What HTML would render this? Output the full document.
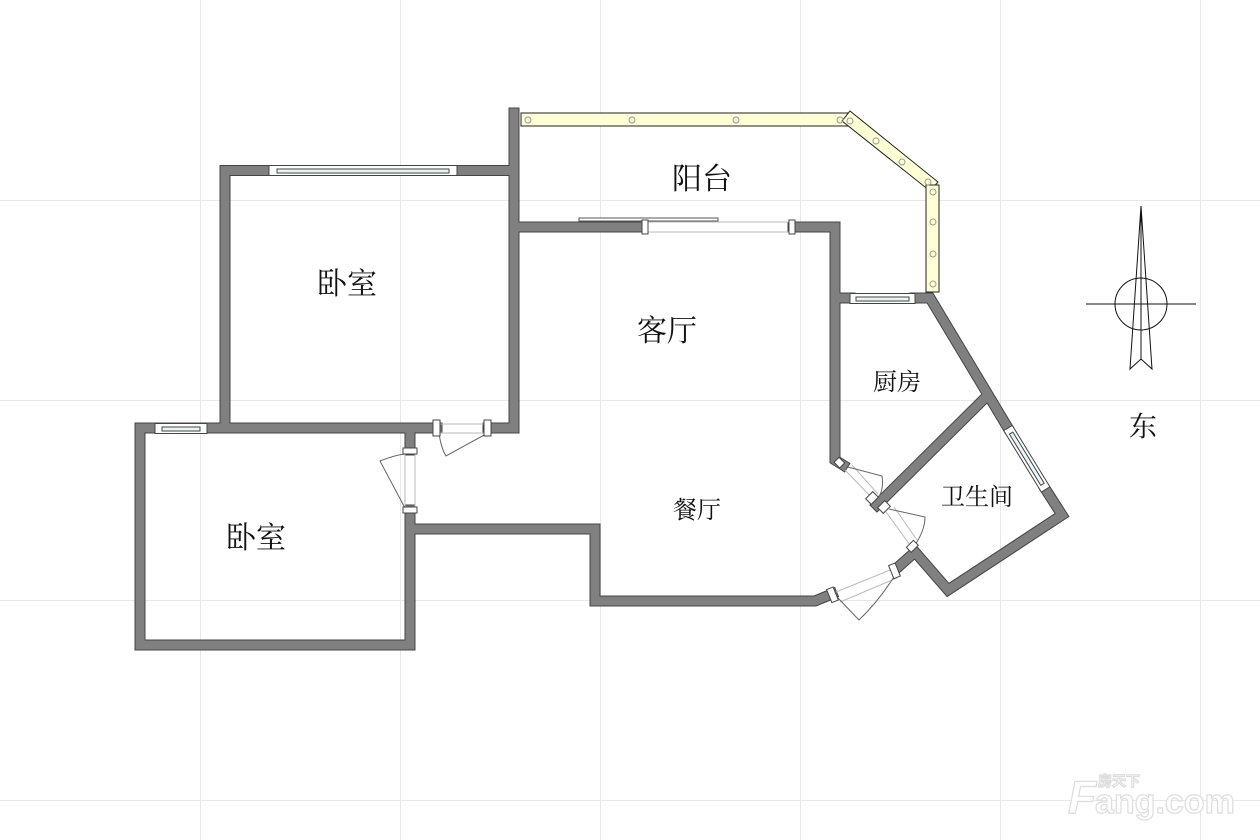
<!DOCTYPE html>
<html><head><meta charset="utf-8"><style>
html,body{margin:0;padding:0;background:#fff;width:1260px;height:840px;overflow:hidden}
svg{display:block}
text{font-family:"Liberation Serif","Noto Serif CJK SC","Noto Sans CJK SC",serif;fill:#111}
</style></head><body>
<svg width="1260" height="840" viewBox="0 0 1260 840" xmlns="http://www.w3.org/2000/svg">
<g stroke="#e8e8e8" stroke-width="1">
<line x1="200.5" y1="0" x2="200.5" y2="840"/><line x1="400.5" y1="0" x2="400.5" y2="840"/><line x1="600.5" y1="0" x2="600.5" y2="840"/><line x1="800.5" y1="0" x2="800.5" y2="840"/><line x1="1000.5" y1="0" x2="1000.5" y2="840"/><line x1="1200.5" y1="0" x2="1200.5" y2="840"/>
<line x1="0" y1="200.5" x2="1260" y2="200.5"/><line x1="0" y1="400.5" x2="1260" y2="400.5"/><line x1="0" y1="600.5" x2="1260" y2="600.5"/><line x1="0" y1="800.5" x2="1260" y2="800.5"/>
</g>
<!-- walls: outline then fill -->
<g fill="none" stroke-linejoin="miter" stroke-linecap="square">
<g stroke="#444" stroke-width="11">
<path id="w" d="M225 428 V170.5 H269 M457 170.5 H514 V113 M514 170 V428 H488 M437 428 H140 V645 H410 V510 M410 450 V428
M410 529 H595 V601 H815 L832 594
M514 227 H642 M793 227 H835 V460 L843 465
M835 298 H850 M915 298 H930 L1008 428 M1046 490 L1062 515 L948 590 L915 552 L897 568
M877 505 L985 398"/>
</g>
<g stroke="#808080" stroke-width="9">
<path d="M225 428 V170.5 H269 M457 170.5 H514 V113 M514 170 V428 H488 M437 428 H140 V645 H410 V510 M410 450 V428
M410 529 H595 V601 H815 L832 594
M514 227 H642 M793 227 H835 V460 L843 465
M835 298 H850 M915 298 H930 L1008 428 M1046 490 L1062 515 L948 590 L915 552 L897 568
M877 505 L985 398"/>
</g>
</g>
<!-- windows -->
<g stroke="#444" stroke-width="1">
<rect x="269" y="165.5" width="188" height="10" fill="#fff"/><rect x="277" y="169" width="172" height="4" fill="#e6f7f7"/>
<rect x="155" y="423.5" width="52" height="10" fill="#fff"/><rect x="162" y="427" width="38" height="4" fill="#e6f7f7"/>
<rect x="850" y="293.5" width="65" height="10" fill="#fff"/><rect x="856" y="297" width="53" height="4" fill="#e6f7f7"/>
<g transform="translate(1008 428) rotate(58.5)"><rect x="0" y="-5" width="72" height="10" fill="#fff"/><rect x="6" y="-2" width="60" height="4" fill="#e6f7f7"/></g>
</g>
<!-- sliding door living/balcony -->
<rect x="579" y="218" width="139" height="3" fill="#fff" stroke="#555"/>
<g stroke="#bbb" fill="none"><line x1="646" y1="222" x2="791" y2="222"/><line x1="646" y1="232" x2="791" y2="232"/></g>
<g fill="#fff" stroke="#444"><rect x="642" y="220" width="6" height="14"/><rect x="789" y="220" width="6" height="14"/></g>
<!-- doors -->
<g stroke="#bbb" fill="none"><line x1="440" y1="424" x2="486" y2="424"/><line x1="440" y1="433" x2="486" y2="433"/>
<line x1="405" y1="454" x2="405" y2="508"/><line x1="415" y1="454" x2="415" y2="508"/>
<line x1="845" y1="470" x2="872" y2="498"/><line x1="852" y1="465" x2="878" y2="494"/>
<line x1="886" y1="512" x2="910" y2="545"/><line x1="894" y1="507" x2="917" y2="540"/>
<line x1="836" y1="592" x2="895" y2="568"/><line x1="840" y1="602" x2="897" y2="578"/></g>
<g stroke="#666" fill="none"><path d="M439 433 Q441 448 446 456 L486 434"/><path d="M405 508 L380 461 Q395 455 405 454"/>
<path d="M848 467 L882 476 Q884 490 878 498"/><path d="M889 509 L925 517 Q925 530 915 545"/><path d="M838 598 L859 620 Q880 600 897 572"/></g>
<g fill="#fff" stroke="#444">
<rect x="433" y="420" width="7" height="16"/><rect x="484" y="420" width="7" height="16"/>
<rect x="403" y="448" width="14" height="6"/><rect x="403" y="507" width="14" height="6"/>
<rect x="836" y="459" width="7" height="8" transform="rotate(-45 839 463)"/>
<rect x="867" y="494" width="10" height="8" transform="rotate(-45 872 498)"/>
<rect x="879" y="503" width="10" height="8" transform="rotate(-45 884 507)"/>
<rect x="907" y="543" width="10" height="7" transform="rotate(-45 912 546)"/>
<rect x="829" y="588" width="7" height="14" transform="rotate(-22 832 595)"/>
<rect x="891" y="564" width="7" height="14" transform="rotate(-22 894 571)"/>
</g>
<!-- balcony -->
<g fill="#ffffd6" stroke="#222" stroke-width="1">
<rect x="521" y="113" width="327" height="13"/>
<polygon points="848,113 845,119 "/>
<polygon points="850,111 938,182 930,191 842,121"/>
<rect x="926" y="185" width="13" height="107"/>
</g>
<g fill="none" stroke="#999" stroke-width="1">
<circle cx="528" cy="120" r="3"/><circle cx="632" cy="120" r="3"/><circle cx="736" cy="120" r="3"/><circle cx="840" cy="120" r="3"/>
<circle cx="850" cy="121" r="3"/><circle cx="876" cy="141" r="3"/><circle cx="902" cy="162" r="3"/><circle cx="928" cy="182" r="3"/>
<circle cx="933" cy="192" r="3"/><circle cx="933" cy="222" r="3"/><circle cx="933" cy="254" r="3"/><circle cx="933" cy="284" r="3"/>
</g>
<!-- labels -->
<text x="702" y="189" font-size="30" text-anchor="middle">阳台</text>
<text x="347" y="294" font-size="30" text-anchor="middle">卧室</text>
<text x="667" y="341" font-size="30" text-anchor="middle">客厅</text>
<text x="897" y="390" font-size="24" text-anchor="middle">厨房</text>
<text x="697" y="518" font-size="24" text-anchor="middle">餐厅</text>
<text x="977" y="505" font-size="24" text-anchor="middle">卫生间</text>
<text x="256" y="548" font-size="30" text-anchor="middle">卧室</text>
<text x="1143" y="436" font-size="28" text-anchor="middle">东</text>
<!-- compass -->
<g stroke="#111" stroke-width="1" fill="none">
<line x1="1141" y1="206" x2="1141" y2="360"/>
<circle cx="1141" cy="304" r="26"/>
<line x1="1086" y1="304" x2="1196" y2="304"/>
<polygon points="1141,206 1130,369 1141,359 1152,369"/>
</g>
<!-- logo -->
<g font-family="Liberation Sans, sans-serif" font-weight="bold" fill="#fff" stroke="#ddd" stroke-width="1.2">
<text x="1068" y="813" font-size="46" font-style="italic" style="font-family:'Liberation Sans',sans-serif;fill:#fff">F</text>
<text x="1095" y="813" font-size="34" style="font-family:'Liberation Sans',sans-serif;fill:#fff">ang.com</text>
<text x="1098" y="786" font-size="14" style="font-family:'Noto Sans CJK SC',sans-serif;fill:#fff">房天下</text>
</g>
</svg>
</body></html>
